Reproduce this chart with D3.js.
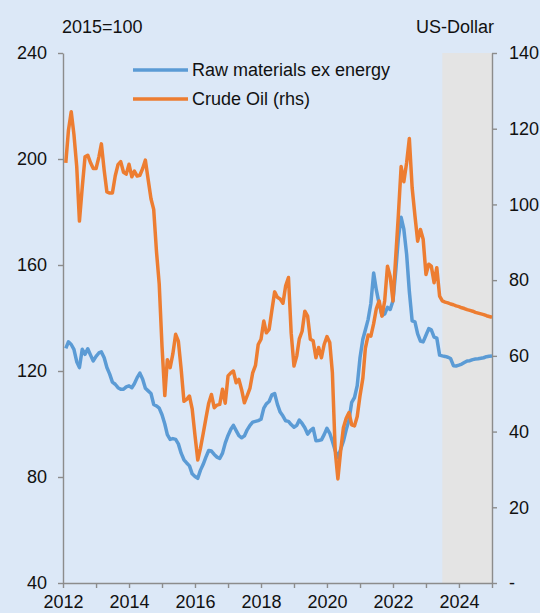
<!DOCTYPE html>
<html>
<head>
<meta charset="utf-8">
<script src="https://cdn.jsdelivr.net/npm/d3@7"></script>
<style>
  body { margin: 0; background: #dce8f7; }
  svg { display: block; font-family: "Liberation Sans", Arial, sans-serif; }
</style>
</head>
<body>
<script>
var w = 540;
var h = 613;

// monthly values, Jan 2012 - Dec 2024 (plotted at month end)
var rawMaterials = [
  128.5, 131, 130, 128.2, 123.5, 121.3, 128.2, 126.3, 128.4, 126, 123.8, 125.5,
  126.8, 127.2, 125, 121.3, 118.8, 115.8, 115, 113.7, 113.1, 113.1, 114, 114.4,
  113.7, 115.2, 117.5, 119.2, 116.9, 113.5, 112.5, 111.5, 107.4, 106.8, 106, 103.5,
  100, 96, 94.2, 94.5, 94.2, 92.5, 89, 86.5, 85.3, 84.2, 81.2, 80.2,
  79.5, 82.5, 84.8, 87.5, 90, 89.8, 88.5, 87.5, 87, 89, 92.8, 95.7,
  98, 99.5, 97.5, 95.6, 94.8, 95.5, 97.8, 99.5, 100.7, 101, 101.3, 101.8,
  106, 107.6, 108.5, 111, 111.5, 107.5, 104.5, 103, 101.2, 101, 99.8, 98.8,
  99.5, 101.5, 100.2, 98.6, 96.2, 97.5, 98.4, 93.7, 93.8, 94, 96, 98.4,
  96.5, 93.5, 90, 87.3, 90.5, 93.5, 97.8, 101.5, 108.2, 110, 114.5, 125,
  132, 135.5, 139.5, 145.5, 157, 150.5, 145.3, 141, 141.5, 144, 143.2, 146.5,
  158, 170, 178, 173.5, 164, 150, 138.9, 138.5, 134, 131.3, 131, 133.5,
  136, 135.5, 132.8, 132.4, 126, 125.7, 125.5, 125.2, 124.7, 122, 121.9, 122.2,
  122.6, 123.2, 123.8, 123.9, 124.3, 124.5, 124.6, 124.8, 125, 125.4, 125.6, 125.7
];

var crudeOil = [
  111, 119.5, 124.5, 118.5, 110, 95.6, 104.5, 112.6, 113, 111, 109.5, 109.5,
  112.5, 116, 109, 103.3, 103, 103, 107.5, 110.5, 111.3, 108.5, 108, 110.6,
  107.3, 108.8, 107.5, 107.7, 109.5, 111.7, 106.5, 101.5, 98.7, 87.5, 79, 62.5,
  49.5, 59, 56.9, 60.5, 65.7, 63.9, 56.5, 48, 48.5, 49.4, 46, 39,
  32.5, 35.5, 39.5, 43.5, 47.5, 49.8, 46.3, 47, 47.2, 51.2, 47.5, 54.7,
  55.5, 56, 52.9, 53.8, 51, 47.6, 49.5, 51.5, 55.5, 57.5, 63, 64.4,
  69.2, 66.1, 67, 72, 76.9, 75.5, 75, 73.9, 78.5, 80.7, 66, 57.3,
  60, 64.5, 66.5, 71.8, 70.5, 64.4, 64, 59.5, 62.2, 59.5, 63, 65.1,
  63.5, 55.6, 35, 27.5, 35, 41, 43.5, 45, 41.8, 41.5, 44, 49.5,
  54, 62, 65.5, 65.2, 68.5, 72.5, 74.5, 70.5, 74.5, 83.7, 81, 74.5,
  86.5, 97, 110, 106, 111, 117.4, 104.4, 97, 90.3, 93.4, 90.8, 81.5,
  84.2, 83.7, 79.3, 83.3, 75.8, 74.5, 74.2, 74, 73.7, 73.5, 73.2, 73,
  72.7, 72.5, 72.2, 72, 71.8, 71.5, 71.3, 71.1, 70.9, 70.6, 70.4, 70.2
];

var seriesNames = ["Raw materials ex energy", "Crude Oil (rhs)"];
var leftTicks = [40, 80, 120, 160, 200, 240];
var rightTicks = [0, 20, 40, 60, 80, 100, 120, 140];
var forecastStart = new Date(2023, 6, 1);

// month-end dates for the points
var dates = d3.timeMonth.range(new Date(2012, 1, 1), new Date(2025, 1, 1));

var margin = {top: 53, right: 48, bottom: 30, left: 63};

var svg = d3.select("body").append("svg")
    .attr("width", w)
    .attr("height", h);

var x = d3.scaleTime()
    .domain([new Date(2012, 0, 1), new Date(2025, 0, 1)])
    .range([margin.left, w - margin.right]);

var yL = d3.scaleLinear()
    .domain([40, 240])
    .range([h - margin.bottom, margin.top]);

var yR = d3.scaleLinear()
    .domain([0, 140])
    .range([h - margin.bottom, margin.top]);

// forecast shading
svg.append("rect")
    .attr("x", x(forecastStart))
    .attr("y", margin.top)
    .attr("width", x.range()[1] - x(forecastStart))
    .attr("height", h - margin.bottom - margin.top)
    .style("fill", "#e4e4e4");

var axisColor = "#8c8c8c";

function styleAxis(g) {
  g.selectAll("path, line").style("stroke", axisColor).style("stroke-width", 1.4);
  g.selectAll("text").style("font-size", "18px").style("fill", "#111");
}

svg.append("g")
    .attr("transform", "translate(" + margin.left + ",0)")
    .call(d3.axisLeft(yL).tickValues(leftTicks).tickSize(5).tickSizeOuter(0).tickPadding(11))
    .call(styleAxis);

svg.append("g")
    .attr("transform", "translate(" + (w - margin.right) + ",0)")
    .call(d3.axisRight(yR).tickValues(rightTicks).tickSize(5).tickSizeOuter(0).tickPadding(12)
        .tickFormat(function(d){ return d === 0 ? "-" : d; }))
    .call(styleAxis);

svg.append("g")
    .attr("transform", "translate(0," + (h - margin.bottom) + ")")
    .call(d3.axisBottom(x).ticks(d3.timeYear.every(1)).tickSize(5).tickSizeOuter(0).tickPadding(7)
        .tickFormat(function(d){ var y = d.getFullYear(); return y % 2 === 0 ? y : ""; }))
    .call(styleAxis);

// lines
var lineL = d3.line()
    .x(function(d, i){ return x(dates[i]); })
    .y(function(d){ return yL(d); });

var lineR = d3.line()
    .x(function(d, i){ return x(dates[i]); })
    .y(function(d){ return yR(d); });

var colors = ["#5b9bd5", "#ed7d31"];

svg.append("path")
    .datum(rawMaterials)
    .attr("d", lineL)
    .style("fill", "none")
    .style("stroke", colors[0])
    .style("stroke-width", 3.5)
    .style("stroke-linejoin", "round");

svg.append("path")
    .datum(crudeOil)
    .attr("d", lineR)
    .style("fill", "none")
    .style("stroke", colors[1])
    .style("stroke-width", 3.5)
    .style("stroke-linejoin", "round");

// unit labels
svg.append("text")
    .attr("x", 62).attr("y", 33)
    .style("font-size", "18px").style("fill", "#111")
    .text("2015=100");

svg.append("text")
    .attr("x", 494).attr("y", 33)
    .attr("text-anchor", "end")
    .style("font-size", "18px").style("fill", "#111")
    .text("US-Dollar");

// legend
var legend = svg.append("g").attr("id", "legend");
var legendItems = legend.selectAll("g")
    .data(seriesNames)
    .enter()
    .append("g")
    .attr("transform", function(d, i){ return "translate(133," + (70 + i * 29) + ")"; });

legendItems.append("line")
    .attr("x1", 0).attr("x2", 55)
    .style("stroke", function(d, i){ return colors[i]; })
    .style("stroke-width", 3.5);

legendItems.append("text")
    .attr("x", 59)
    .attr("dy", "0.35em")
    .style("font-size", "18px").style("fill", "#111")
    .text(function(d){ return d; });
</script>
</body>
</html>
